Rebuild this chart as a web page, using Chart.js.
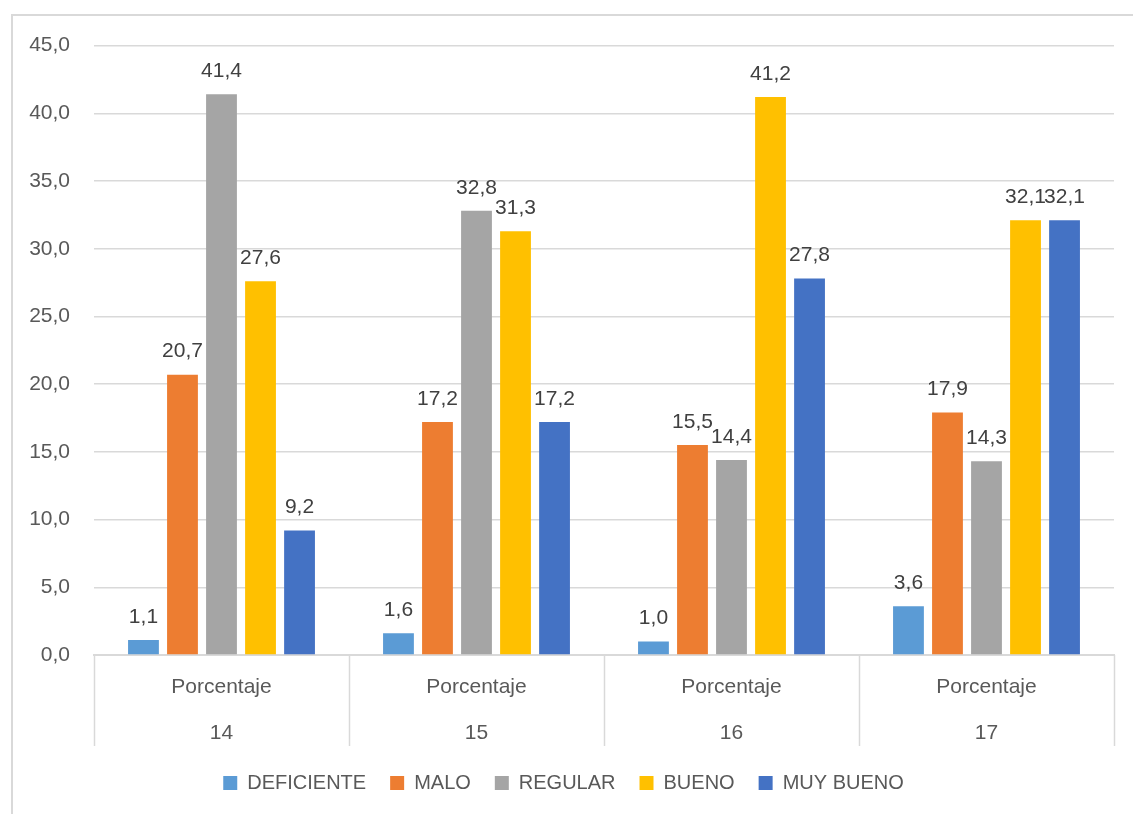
<!DOCTYPE html>
<html lang="es">
  <head>
    <meta charset="UTF-8" />
    <title>Porcentaje por grupo</title>
    <script src="https://cdn.jsdelivr.net/npm/chart.js@4"></script>
    <style>
      body { margin: 0; background: #fff; overflow: hidden; }
      .frame { position: absolute; left: 11px; top: 14px; right: 0; bottom: 0; border-top: 2px solid #d9d9d9; border-left: 2px solid #d9d9d9; }
      .chart { position: absolute; left: 13px; top: 9px; width: 1118px; height: 803px; }
    </style>
  </head>
  <body>
    <div class="frame"></div>
    <div class="chart"><canvas id="myChart"></canvas></div>
    <script>
      const groups = ['14', '15', '16', '17'];
      const groupLabel = 'Porcentaje';
      const seriesNames = ['DEFICIENTE', 'MALO', 'REGULAR', 'BUENO', 'MUY BUENO'];
      const deficiente = [1.1, 1.6, 1.0, 3.6];
      const malo = [20.7, 17.2, 15.5, 17.9];
      const regular = [41.4, 32.8, 14.4, 14.3];
      const bueno = [27.6, 31.3, 41.2, 32.1];
      const muyBueno = [9.2, 17.2, 27.8, 32.1];
      const colors = ['#5b9bd5', '#ed7d31', '#a5a5a5', '#ffc000', '#4472c4'];

      const FONT = "'Liberation Sans', Arial, sans-serif";
      const TEXT = '#595959';
      const fmt = v => v.toFixed(1).replace('.', ',');

      // value labels above the bars
      const valueLabels = {
        id: 'valueLabels',
        afterDatasetsDraw(chart) {
          const ctx = chart.ctx;
          ctx.save();
          ctx.font = '21px ' + FONT;
          ctx.fillStyle = '#404040';
          ctx.textAlign = 'center';
          ctx.textBaseline = 'middle';
          chart.data.datasets.forEach((ds, i) => {
            chart.getDatasetMeta(i).data.forEach((bar, j) => {
              ctx.fillText(fmt(ds.data[j]), bar.x, bar.y - 23);
            });
          });
          ctx.restore();
        }
      };

      // vertical separators between the category groups below the axis
      const separators = {
        id: 'separators',
        afterDraw(chart) {
          const x = chart.scales.x;
          const ctx = chart.ctx;
          const step = x.getPixelForValue(1) - x.getPixelForValue(0);
          ctx.save();
          ctx.strokeStyle = '#d9d9d9';
          ctx.lineWidth = 1.5;
          for (let i = 0; i <= groups.length; i++) {
            const px = Math.round(x.getPixelForValue(0) - step / 2 + i * step) + 0.5;
            ctx.beginPath();
            ctx.moveTo(px, x.top);
            ctx.lineTo(px, x.top + 91);
            ctx.stroke();
          }
          ctx.restore();
        }
      };

      const ctx = document.getElementById('myChart').getContext('2d');
      new Chart(ctx, {
        type: 'bar',
        data: {
          labels: groups.map(g => [groupLabel, g]),
          datasets: [deficiente, malo, regular, bueno, muyBueno].map((d, i) => ({
            label: seriesNames[i],
            data: d,
            backgroundColor: colors[i],
            borderWidth: 0,
            categoryPercentage: 0.765,
            barPercentage: 0.79
          }))
        },
        options: {
          responsive: true,
          maintainAspectRatio: false,
          animation: false,
          layout: { padding: { left: 0, right: 17, top: 21, bottom: 9 } },
          plugins: {
            tooltip: { enabled: false },
            legend: {
              position: 'bottom',
              labels: {
                boxWidth: 14,
                boxHeight: 14,
                padding: 24,
                color: TEXT,
                font: { family: FONT, size: 20 }
              }
            }
          },
          scales: {
            x: {
              grid: { display: false, drawTicks: false },
              border: { display: true, color: '#d9d9d9', width: 2 },
              ticks: {
                color: TEXT,
                padding: 10,
                font: { family: FONT, size: 21, lineHeight: 2.15 },
                maxRotation: 0
              },
              afterFit(scale) { scale.height = 94; }
            },
            y: {
              min: 0,
              max: 45,
              grid: { color: '#d9d9d9', lineWidth: 1.5, drawTicks: false },
              border: { display: false },
              ticks: {
                stepSize: 5,
                color: TEXT,
                padding: 24,
                font: { family: FONT, size: 21 },
                callback: v => fmt(v)
              },
              afterFit(scale) { scale.width = 81; }
            }
          }
        },
        plugins: [valueLabels, separators]
      });
    </script>
  </body>
</html>
